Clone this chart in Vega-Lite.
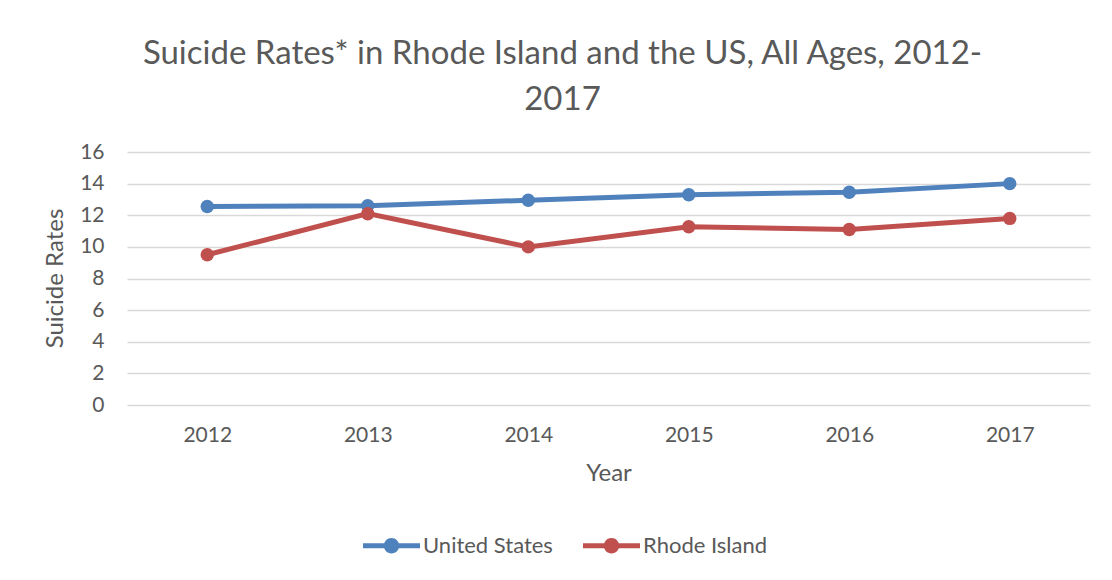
{
  "$schema": "https://vega.github.io/schema/vega-lite/v6.json",
  "autosize": "none",
  "width": 963,
  "height": 253,
  "padding": {"left": 127, "top": 152, "right": 22, "bottom": 175},
  "background": "white",
  "config": {
    "font": "Lato",
    "view": {"stroke": null},
    "axis": {"labelColor": "#595959", "titleColor": "#595959", "labelFont": "Lato", "titleFont": "Lato", "titleFontWeight": "normal"}
  },
  "title": {
    "text": ["Suicide Rates* in Rhode Island and the US, All Ages, 2012-", "2017"],
    "fontSize": 33,
    "fontWeight": "normal",
    "color": "#595959",
    "font": "Lato",
    "anchor": "middle",
    "dx": -46,
    "offset": 24,
    "lineHeight": 46
  },
  "data": {
    "values": [
      {"Year": "2012", "Series": "United States", "Rate": 12.55},
      {"Year": "2013", "Series": "United States", "Rate": 12.6},
      {"Year": "2014", "Series": "United States", "Rate": 12.95},
      {"Year": "2015", "Series": "United States", "Rate": 13.3},
      {"Year": "2016", "Series": "United States", "Rate": 13.45},
      {"Year": "2017", "Series": "United States", "Rate": 14.0},
      {"Year": "2012", "Series": "Rhode Island", "Rate": 9.5},
      {"Year": "2013", "Series": "Rhode Island", "Rate": 12.1},
      {"Year": "2014", "Series": "Rhode Island", "Rate": 10.0},
      {"Year": "2015", "Series": "Rhode Island", "Rate": 11.27},
      {"Year": "2016", "Series": "Rhode Island", "Rate": 11.1},
      {"Year": "2017", "Series": "Rhode Island", "Rate": 11.8}
    ]
  },
  "encoding": {
    "x": {
      "field": "Year",
      "type": "ordinal",
      "scale": {"type": "point", "padding": 0.5},
      "axis": {
        "title": "Year",
        "titleFontSize": 24,
        "labelFontSize": 21,
        "labelAngle": 0,
        "ticks": false,
        "domain": false,
        "grid": false,
        "labelPadding": 19,
        "titlePadding": 16
      }
    },
    "y": {
      "field": "Rate",
      "type": "quantitative",
      "scale": {"domain": [0, 16], "nice": false},
      "axis": {
        "title": "Suicide Rates",
        "titleFontSize": 24,
        "labelFontSize": 21,
        "values": [0, 2, 4, 6, 8, 10, 12, 14, 16],
        "ticks": false,
        "domain": false,
        "grid": true,
        "gridColor": "#D9D9D9",
        "gridWidth": 1.3,
        "labelPadding": 23,
        "titleX": -60,
        "titleY": 126
      }
    },
    "color": {
      "field": "Series",
      "type": "nominal",
      "scale": {"domain": ["United States", "Rhode Island"], "range": ["#4F81BD", "#C0504D"]},
      "legend": {
        "title": null,
        "orient": "none",
        "direction": "horizontal",
        "legendX": 236,
        "legendY": 365,
        "labelFontSize": 22,
        "labelColor": "#595959",
        "labelFont": "Lato",
        "labelOffset": 3,
        "columnPadding": 30,
        "symbolType": "M-1,-0.09H1V0.09H-1Z M-0.27,0A0.27,0.27 0 1,1 0.27,0A0.27,0.27 0 1,1 -0.27,0Z",
        "symbolSize": 3249,
        "symbolStrokeWidth": 0,
        "symbolOpacity": 1
      }
    }
  },
  "layer": [
    {"mark": {"type": "line", "strokeWidth": 5}},
    {"mark": {"type": "point", "filled": true, "size": 180, "opacity": 1}}
  ]
}
